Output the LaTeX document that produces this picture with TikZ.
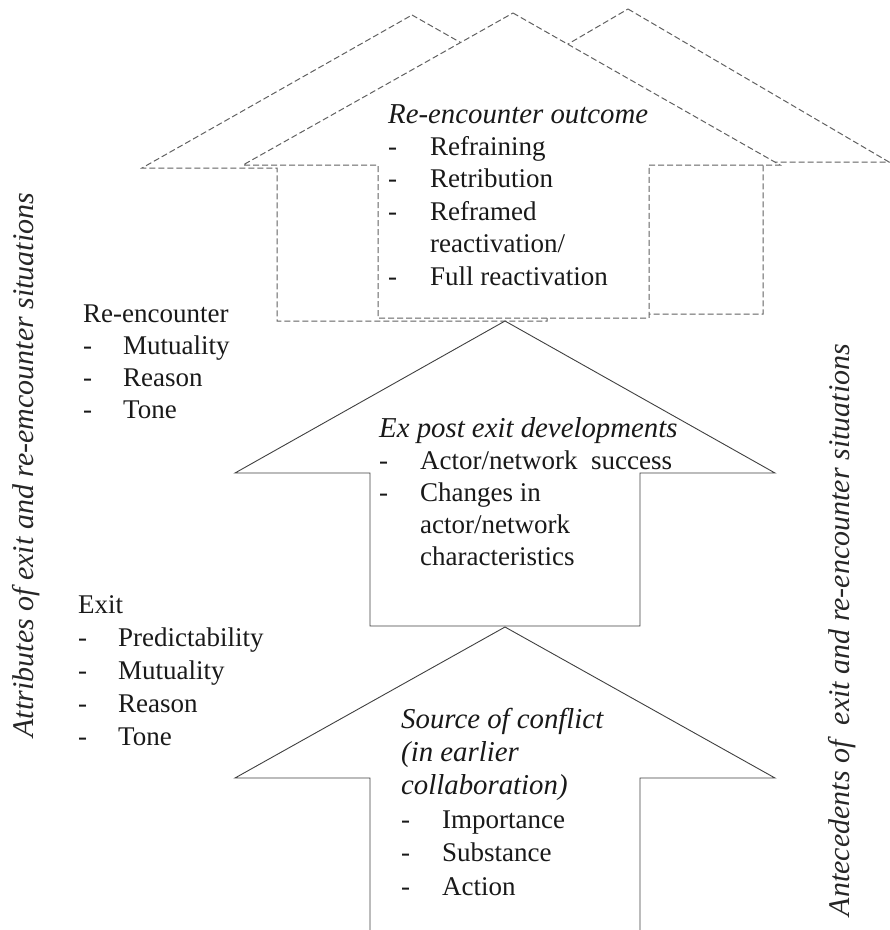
\documentclass[tikz,border=0pt]{standalone}
\usepackage{fontspec}
\setmainfont{Liberation Serif}
\newcommand\dashitem[2][38pt]{\makebox[#1][l]{-}#2}
\newcommand\ttl[1]{{\fontsize{28.8}{32}\selectfont\itshape #1}}
\begin{document}
\begin{tikzpicture}[x=1pt,y=-1pt,
  solidarrow/.style={draw=black!75, line width=0.9pt, fill=white, line join=miter},
  dasharrow/.style={draw=black!62, line width=1pt, dash pattern=on 6pt off 3pt, fill=white},
  txt/.style={inner sep=0pt, anchor=base west, text=black!90},
  vtxt/.style={inner sep=0pt, anchor=base, rotate=90, text=black!85, font=\fontsize{30}{32}\selectfont\itshape}
]
\useasboundingbox (0,0) rectangle (890,930);
% dashed arrows (top)
\draw[dasharrow] (412,15) -- (682,168) -- (547,168) -- (547,321) -- (277,321) -- (277,168) -- (142,168) -- cycle;
\draw[dasharrow] (628,9) -- (889,162) -- (763,162) -- (763,314) -- (493,314) -- (493,162) -- (366,162) -- cycle;
\draw[dasharrow] (513,13) -- (780,165) -- (649,165) -- (649,318) -- (378,318) -- (378,165) -- (243,165) -- cycle;
% solid arrows
\draw[solidarrow] (505,321) -- (775,473) -- (640,473) -- (640,626) -- (370,626) -- (370,473) -- (235,473) -- cycle;
\draw[solidarrow] (370,932) -- (370,778) -- (235,778) -- (505,627) -- (775,778) -- (640,778) -- (640,932);
% texts in arrows
\node[txt, font=\fontsize{27}{32.4}\selectfont] (outcome) at (388,123) {\begin{tabular}[t]{@{}l@{}}\ttl{Re-encounter outcome}\\ \dashitem[42pt]{Refraining}\\ \dashitem[42pt]{Retribution}\\ \dashitem[42pt]{Reframed}\\ \hspace*{42pt}reactivation/\\ \dashitem[42pt]{Full reactivation}\end{tabular}};
\node[txt, font=\fontsize{27}{32}\selectfont] (expost) at (379,437) {\begin{tabular}[t]{@{}l@{}}\ttl{Ex post exit developments}\\ \dashitem[41pt]{Actor/network\ \ success}\\ \dashitem[41pt]{Changes in}\\ \hspace*{41pt}actor/network\\ \hspace*{41pt}characteristics\end{tabular}};
\node[txt, font=\fontsize{27}{33.4}\selectfont] (source) at (401,728) {\begin{tabular}[t]{@{}l@{}}\ttl{Source of conflict}\\ \ttl{(in earlier}\\ \ttl{collaboration)}\\ \dashitem[41pt]{Importance}\\ \dashitem[41pt]{Substance}\\ \dashitem[41pt]{Action}\end{tabular}};
% left lists
\node[txt, font=\fontsize{27}{32}\selectfont] (reenc) at (83,322) {\begin{tabular}[t]{@{}l@{}}Re-encounter\\ \dashitem[40pt]{Mutuality}\\ \dashitem[40pt]{Reason}\\ \dashitem[40pt]{Tone}\end{tabular}};
\node[txt, font=\fontsize{27}{33}\selectfont] (exit) at (78,613) {\begin{tabular}[t]{@{}l@{}}Exit\\ \dashitem[40pt]{Predictability}\\ \dashitem[40pt]{Mutuality}\\ \dashitem[40pt]{Reason}\\ \dashitem[40pt]{Tone}\end{tabular}};
% vertical labels
\node[vtxt] (attr) at (34,465) {Attributes of exit and re-emcounter situations};
\node[vtxt] (ante) at (849,630) {Antecedents of\ \ exit and re-encounter situations};
\end{tikzpicture}
\end{document}
